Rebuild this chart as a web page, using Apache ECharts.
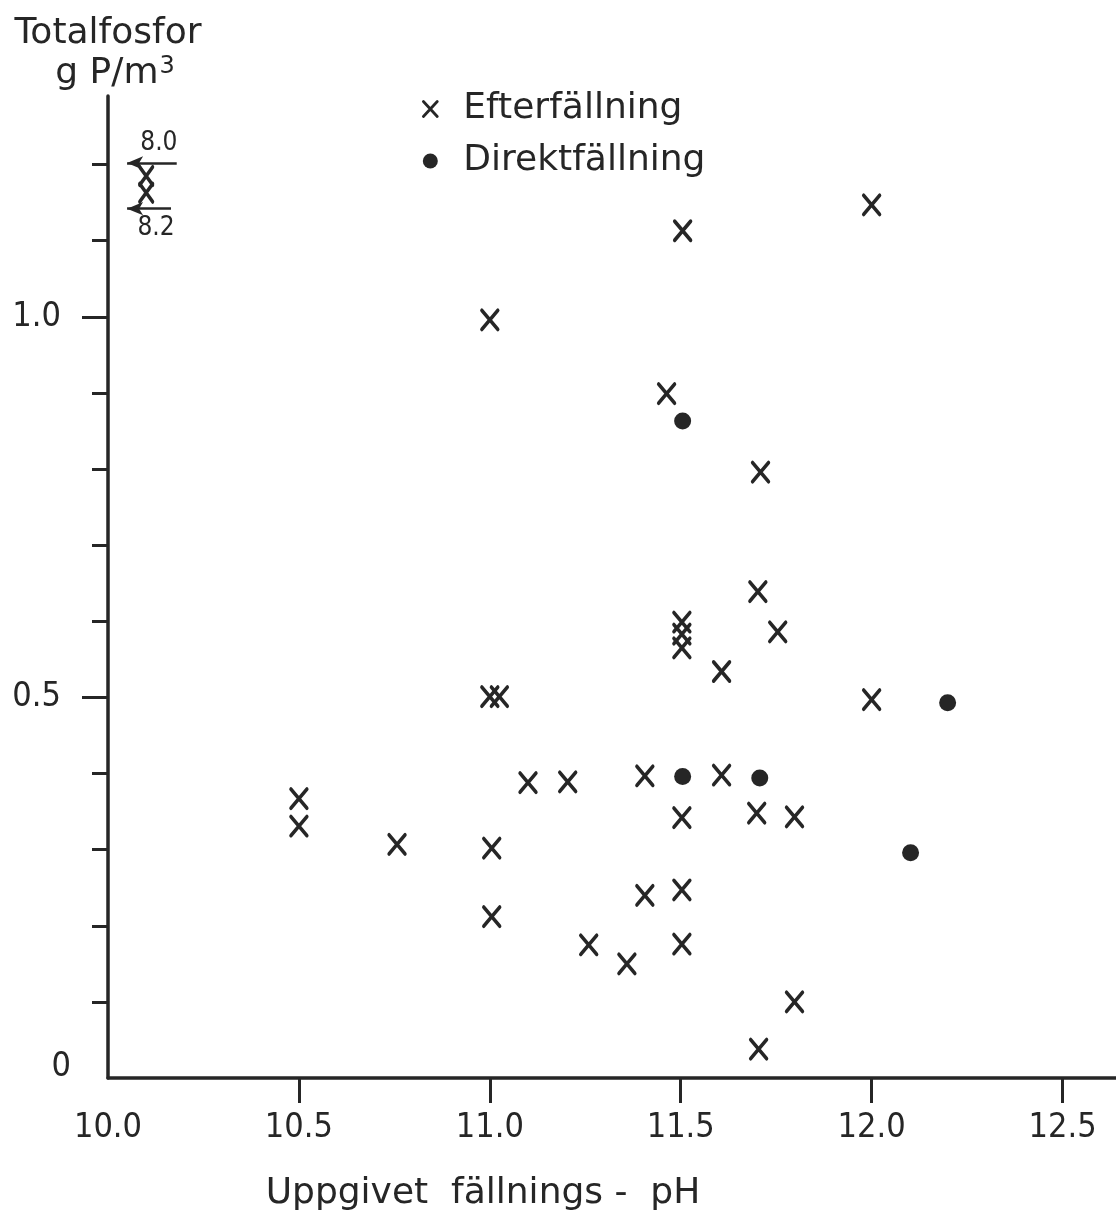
<!DOCTYPE html>
<html>
<head>
<meta charset="utf-8">
<script src="https://cdn.jsdelivr.net/npm/echarts@6/dist/echarts.min.js"></script>
<style>
html,body{margin:0;padding:0;background:#fff;}
#chart{width:1116px;height:1222px;}
</style>
</head>
<body>
<div id="chart"></div>
<script>
// ---- data ----
const seriesNames = ['Efterfällning', 'Direktfällning'];
const efterPH = [10.5, 10.5, 10.757, 11.005, 11.005, 11.0, 11.0, 11.025, 11.1, 11.204, 11.259, 11.359, 11.406, 11.406, 11.463, 11.505, 11.503, 11.503, 11.503, 11.503, 11.503, 11.503, 11.607, 11.607, 11.709, 11.702, 11.754, 11.699, 11.798, 11.798, 11.704, 12.0, 12.0];
const efterP  = [0.367, 0.331, 0.307, 0.302, 0.212, 0.996, 0.501, 0.501, 0.388, 0.389, 0.175, 0.150, 0.397, 0.240, 0.899, 1.113, 0.599, 0.583, 0.565, 0.342, 0.247, 0.176, 0.534, 0.398, 0.796, 0.639, 0.586, 0.348, 0.343, 0.100, 0.038, 1.147, 0.497];
const direktPH = [11.505, 11.505, 11.707, 12.199, 12.102];
const direktP  = [0.863, 0.396, 0.394, 0.493, 0.296];
// off-scale points (pH 8.0 and 8.2), drawn at the left edge with arrows
const offPH = [10.1, 10.1];
const offP  = [1.185, 1.163];
const offLabels = ['8.0', '8.2'];
const offArrowY = [1.202, 1.142];
const offArrowFrom = [10.18, 10.165];
const offArrowTo = [10.05, 10.05];
const xTicks = [10.5, 11.0, 11.5, 12.0, 12.5];
const xTickLabels = [10.0, 10.5, 11.0, 11.5, 12.0, 12.5];
const yMinorTicks = [0.1, 0.2, 0.3, 0.4, 0.6, 0.7, 0.8, 0.9, 1.1, 1.2];
const yMajorTicks = [0.5, 1.0];
const yTickLabels = [0, 0.5, 1.0];
const xTitle = 'Uppgivet  fällnings -  pH';
const yTitleLine1 = 'Totalfosfor';
const yTitleLine2 = 'g P/m';
const yTitleSup = '3';

// ---- styling ----
const INK = '#262626';
const FONT = 'DejaVu Sans';
const FONT_N = 'DejaVu Sans Condensed';
const crossPath = 'path://M0,0L16,19M16,0L0,19';
const crossStyle = {color: INK, borderColor: INK, borderWidth: 3.6, borderCap: 'round', opacity: 1};

const chart = echarts.init(document.getElementById('chart'), null, {renderer: 'canvas'});
const option = {
  backgroundColor: '#ffffff',
  animation: false,
  grid: {left: 108, right: 0, top: 96, bottom: 144, containLabel: false},
  legend: {
    orient: 'vertical', left: 417, top: 86, itemGap: 16,
    itemWidth: 16, itemHeight: 15,
    data: [
      {name: seriesNames[0], icon: 'path://M0,0L12,13M12,0L0,13',
       itemStyle: {color: INK, borderColor: INK, borderWidth: 2.8, borderCap: 'round', opacity: 1}},
      {name: seriesNames[1], icon: 'circle', itemStyle: {color: INK, borderWidth: 0, opacity: 1}}
    ],
    formatter: n => '{t|' + n + '}',
    textStyle: {
      rich: {t: {fontFamily: FONT, fontSize: 36, color: INK, padding: [0, 0, 0, 20], lineHeight: 36}}
    }
  },
  xAxis: {
    type: 'value', min: 10, max: 12.64, interval: 0.5,
    splitLine: {show: false},
    axisLine: {show: true, lineStyle: {color: INK, width: 3.5}},
    axisTick: {show: true, length: 25, lineStyle: {color: INK, width: 3}, customValues: xTicks},
    axisLabel: {
      customValues: xTickLabels, margin: 33,
      fontFamily: FONT_N, fontSize: 34, color: INK,
      formatter: v => Number(v).toFixed(1)
    },
    name: xTitle, nameLocation: 'middle', nameGap: 98,
    nameTextStyle: {fontFamily: FONT, fontSize: 36, color: INK, padding: [0, 258, 0, 0]}
  },
  yAxis: [{
    type: 'value', min: 0, max: 1.29, interval: 0.1,
    splitLine: {show: false},
    axisLine: {show: true, onZero: false, lineStyle: {color: INK, width: 3.5}},
    axisTick: {show: true, length: 26, lineStyle: {color: INK, width: 3}, customValues: yMajorTicks},
    axisLabel: {
      customValues: yTickLabels, margin: 37, align: 'right',
      formatter: v => v === 0 ? '{z|0}' : '{n|' + Number(v).toFixed(1) + '}',
      rich: {
        n: {fontFamily: FONT_N, fontSize: 34, color: INK, padding: [0, 10, 0, 0]},
        z: {fontFamily: FONT_N, fontSize: 34, color: INK, padding: [0, 0, 22, 0]}
      }
    },
    name: yTitleLine1 + '\n{b|' + yTitleLine2 + '}{s|' + yTitleSup + '}',
    nameLocation: 'end', nameGap: 2,
    nameTextStyle: {
      fontFamily: FONT, fontSize: 36, color: INK, align: 'center', verticalAlign: 'bottom', lineHeight: 40,
      rich: {
        b: {fontFamily: FONT, fontSize: 36, color: INK, lineHeight: 40, padding: [0, 0, 0, 14]},
        s: {fontFamily: FONT, fontSize: 24, color: INK, lineHeight: 40, padding: [0, 0, 14, 1]}
      }
    }
  }, {
    type: 'value', min: 0, max: 1.29, interval: 0.1, position: 'left',
    splitLine: {show: false},
    axisLine: {show: false},
    axisTick: {show: true, length: 16, lineStyle: {color: INK, width: 3}, customValues: yMinorTicks},
    axisLabel: {show: false}
  }],
  series: [{
    name: seriesNames[0], type: 'scatter',
    symbol: crossPath, symbolSize: [16, 19],
    itemStyle: crossStyle,
    data: efterPH.map((x, i) => [x, efterP[i]])
  }, {
    name: seriesNames[1], type: 'scatter',
    symbol: 'circle', symbolSize: 17,
    itemStyle: {color: INK, opacity: 1},
    data: direktPH.map((x, i) => [x, direktP[i]])
  }, {
    name: 'offscale', type: 'scatter',
    symbol: crossPath, symbolSize: [13, 18],
    itemStyle: crossStyle,
    data: offPH.map((x, i) => [x, offP[i]]),
    markLine: {
      silent: true, animation: false,
      symbol: ['none', 'arrow'], symbolSize: [10, 16],
      lineStyle: {color: INK, width: 2.5, type: 'solid', opacity: 1},
      data: offArrowY.map((y, i) => [
        {coord: [offArrowFrom[i], y], label: {
          show: true, formatter: offLabels[i],
          position: i === 0 ? 'insideMiddleTop' : 'insideMiddleBottom',
          fontFamily: FONT_N, fontSize: 26, color: INK, distance: 7,
          offset: [7, 0]
        }},
        {coord: [offArrowTo[i], y]}
      ])
    }
  }]
};
chart.setOption(option);
</script>
</body>
</html>
